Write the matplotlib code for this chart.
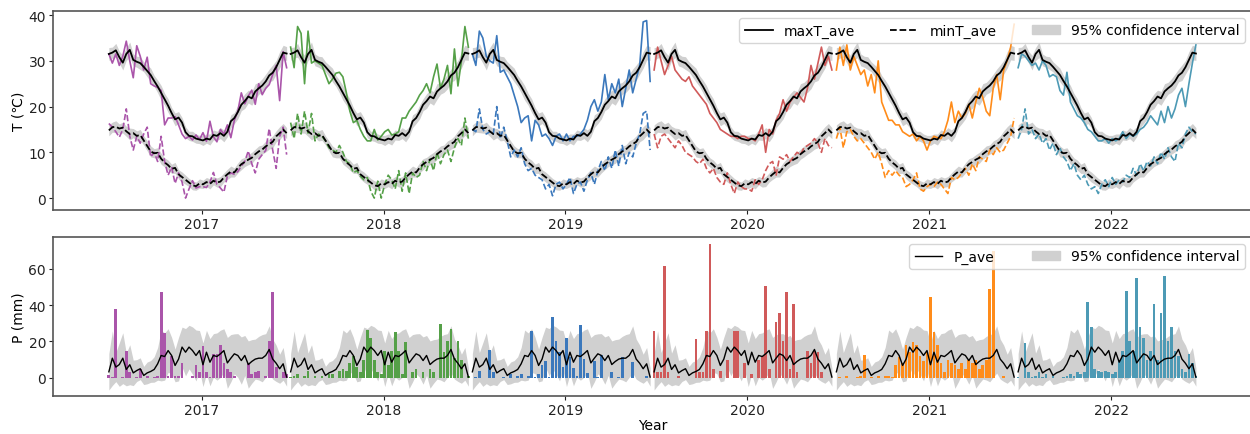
import numpy as np
import pandas as pd
import matplotlib.pyplot as plt
from matplotlib.lines import Line2D
from matplotlib.patches import Patch

# Wochenwerte, jeweils Juli bis Juni (52 Wochen)
season_starts = ["2016-06-28", "2017-06-28", "2018-06-28", "2019-06-28", "2020-06-28", "2021-06-28"]
season_colors = ["#aa55aa", "#55a048", "#3b78bc", "#d05a5a", "#ff8c1a", "#4d9ab5"]

# Mittelwerte (Klimatologie), fuer jede Saison gleich
maxT_ave = [31.5, 31.8, 32.3, 30.8, 29.6, 31.5, 32.4, 30.2, 29.8, 29.5, 28.7, 27.8, 26.9, 25.6, 24.4, 23.0,
            21.6, 20.2, 18.6, 17.2, 17.6, 16.5, 14.4, 13.6, 13.5, 13.0, 12.8, 12.6, 13.0, 12.8, 13.8, 13.6,
            14.2, 13.6, 14.5, 16.8, 17.5, 18.8, 20.4, 21.2, 22.2, 21.8, 23.3, 24.0, 24.6, 25.5, 26.8, 27.4,
            28.6, 30.2, 31.8, 31.6]
minT_ave = [14.8, 15.5, 15.6, 15.2, 15.4, 14.6, 14.0, 14.2, 13.6, 13.8, 12.6, 11.4, 10.2, 9.8, 9.9, 8.6,
            7.8, 7.2, 6.4, 6.6, 5.2, 4.6, 4.0, 3.4, 2.8, 2.6, 3.2, 3.0, 3.5, 3.1, 3.8, 3.4,
            3.6, 4.5, 5.2, 5.8, 5.6, 6.6, 7.4, 7.9, 8.4, 8.8, 9.6, 10.2, 10.6, 11.3, 11.8, 12.3,
            13.5, 14.2, 15.0, 14.2]
P_ave = [3.3, 10.8, 5.9, 7.3, 10.8, 4.6, 7.2, 2.7, 4.0, 5.0, 1.3, 2.7, 3.5, 4.6, 7.7, 12.3,
         11.7, 15.0, 12.3, 6.8, 10.3, 16.9, 14.1, 16.9, 15.0, 12.3, 15.0, 7.2, 14.1, 8.6, 12.3, 11.7,
         13.2, 15.0, 8.2, 10.8, 13.2, 12.3, 9.5, 12.3, 7.3, 9.0, 10.3, 10.8, 10.8, 12.3, 15.6, 10.3,
         8.0, 5.0, 7.7, 0.4]

# halbe Breite des 95%-Konfidenzintervalls
maxT_ci = [1.4, 1.2, 1.5, 1.3, 1.6, 1.4, 1.7, 1.3, 1.2, 1.4, 1.1, 1.3, 1.5, 1.2, 1.4, 1.6, 1.3, 1.5,
           1.2, 1.4, 1.3, 1.1, 1.2, 1.0, 1.1, 1.0, 0.9, 1.1, 1.0, 1.2, 1.1, 1.0, 1.2, 1.3, 1.1, 1.4,
           1.2, 1.5, 1.3, 1.6, 1.4, 1.5, 1.7, 1.3, 1.5, 1.6, 1.4, 1.7, 1.5, 1.8, 1.6, 1.5]
minT_ci = [1.2, 1.1, 1.3, 1.0, 1.2, 1.1, 1.3, 1.0, 1.1, 1.2, 1.0, 1.1, 1.2, 1.0, 1.1, 1.2, 1.0, 1.1,
           1.0, 1.2, 1.0, 1.1, 1.0, 0.9, 1.0, 0.9, 1.0, 0.9, 1.0, 1.1, 0.9, 1.0, 1.1, 1.0, 1.1, 1.2,
           1.0, 1.1, 1.2, 1.0, 1.1, 1.2, 1.1, 1.2, 1.0, 1.2, 1.1, 1.3, 1.2, 1.4, 1.3, 1.2]
P_ci = [10, 15, 8, 12, 14, 9, 11, 7, 6, 6, 5, 6, 6, 7, 9, 14, 13, 12, 10, 9, 12, 11, 13, 12, 13, 14,
        11, 12, 12, 13, 12, 13, 13, 12, 14, 13, 11, 12, 13, 11, 13, 12, 11, 12, 13, 12, 13, 11, 10, 8, 9, 5]

# Jahreswerte maxT
maxT_2016 = [31.5, 29.5, 31.5, 29, 31, 34.3, 30, 26.3, 33.3, 31, 28, 30.8, 25, 24.5, 24.2, 23.5, 16, 17.5,
             17.5, 17.8, 16, 14, 13, 13.5, 12.7, 13.8, 12.8, 14.3, 12.4, 16.8, 13.4, 12.3, 15, 14, 16, 13.2,
             17, 19, 23, 20.6, 22.3, 23.6, 20.5, 25, 22.6, 24, 24.8, 27, 29, 21.3, 32, 28.5]
maxT_2017 = [33, 28.5, 37.5, 36, 25, 36.5, 29.5, 30, 29.5, 29, 27, 25, 26, 27.3, 27.5, 26.5, 23, 19,
             16.5, 17, 15, 13.5, 12.5, 12.5, 15, 12.7, 13.5, 14.5, 15, 13.8, 14, 14.5, 17.5, 17.5, 19, 20,
             21, 22.5, 23.5, 25, 23, 26.5, 29.3, 24, 26, 29, 22.8, 32.6, 24.5, 30, 37.5, 33]
maxT_2018 = [31.5, 29, 36.5, 35, 31, 30, 29.5, 35.5, 27.5, 28, 26.5, 25, 22.5, 20, 16.5, 17.5, 18, 12.5,
             17, 16, 13.5, 14, 13, 11.5, 13.5, 14, 12.5, 14, 12.5, 13.5, 13.5, 14, 15, 17, 20, 21.5,
             19, 21, 27, 21.5, 25, 23, 26, 20, 24, 28, 23, 26, 29, 38.5, 38.8, 25.5]
maxT_2019 = [28, 33, 30, 27, 29, 31, 28, 27, 26, 25.5, 26.5, 24.5, 23.5, 22.5, 21.5, 20.5, 18.5, 17.5,
             16.5, 15, 14.5, 14, 13.5, 13.5, 13, 13.5, 13.5, 13, 13, 12.5, 14, 16, 10, 15, 14, 17,
             18.5, 21.5, 19, 21, 22, 23, 22, 21, 24, 29, 26, 29.5, 33, 29, 31, 28]
maxT_2020 = [28, 33, 29, 33.5, 28, 31, 29, 27, 28, 24.5, 27, 23, 30, 21, 19, 17, 17, 16,
             16, 14.5, 14, 13.5, 14, 12.5, 13.5, 12.5, 10.5, 12.5, 13.5, 13.2, 13, 14.5, 17, 21, 16.5, 19,
             17.5, 18.5, 20.5, 17.5, 21, 24, 22, 19, 18, 24, 27, 21.5, 28, 30, 33, 38]
maxT_2021 = [28.5, 31.5, 31, 30, 29, 29.5, 28, 30, 29, 26.5, 27, 26.5, 23.5, 22.5, 27.5, 21, 19.5, 18,
             17.5, 16.5, 15, 14.5, 13.5, 12.5, 12.5, 13, 12, 13, 12.5, 13, 14.5, 13, 14, 13.5, 14, 15,
             15.5, 16.5, 18, 17, 16, 19, 16.5, 20, 17.5, 19.5, 22.5, 24, 20, 25, 29.5, 33.5]

# Jahreswerte minT
minT_2016 = [16.3, 15.5, 14.5, 13.3, 15, 19.5, 13.5, 10.5, 13.5, 12, 14, 15.5, 9, 10, 8, 13.5, 8, 5,
             6.8, 3.2, 5.5, 3.5, 0, 2, 3.8, 2.2, 2.5, 2.5, 2.3, 3.5, 5.6, 3, 2.2, 1.3, 4.8, 5.5,
             5.2, 5.8, 7, 8, 10.3, 7.5, 5.5, 8.5, 9.5, 10.4, 15.2, 10.5, 6.5, 13.5, 15.5, 9.5]
minT_2017 = [16.5, 13, 18.5, 14, 19, 14.2, 18.5, 12.5, 14, 13.5, 12.5, 11, 10.5, 10, 11.5, 10, 8, 7.5,
             5.5, 6, 4.8, 4, 4.5, 1.5, 0, 3.7, 0, 3, 5, 4, 2, 6, 1.5, 5.5, 1, 5.5,
             4.5, 5, 8, 6, 8.5, 6, 10, 7.5, 9.5, 10.5, 8, 11, 13, 11.5, 17.5, 13]
minT_2018 = [15, 14.5, 19.5, 15, 14, 14.5, 14, 20, 13, 15.5, 12.5, 9, 10.5, 9, 11, 7.5, 6, 6.5,
             5, 4.5, 4, 2, 3, 0.5, 3, 3.5, 2, 3, 4.5, 1, 3, 3.5, 1.5, 4, 5.5, 3,
             6, 8, 6, 9, 6.5, 10.5, 7, 11.5, 7.5, 10, 9, 12, 14, 18.5, 19, 10.5]
minT_2019 = [14, 11, 13.5, 14, 13, 12, 11, 12.5, 11.5, 10, 9.5, 9, 8, 7.5, 8.5, 6.5, 5.5, 6.5,
             4.5, 3.5, 3, 5.5, 3, 1, 3.5, 2.5, 2, 2, 1.5, 4, 3, 4, 6, 7.5, 8, 5,
             9, 8.5, 9.5, 8, 9, 10, 9.5, 11, 11.5, 12, 13, 12, 10, 13, 11.5, 11]
minT_2020 = [13, 15.5, 11, 14.5, 15, 13.5, 12.5, 13, 12, 11, 10, 8.5, 10, 7.5, 4.5, 6, 5, 6,
             5, 4.5, 2.5, 3, 4, 5.5, 2, 1.5, 2.5, 3, 2.5, 3.5, 3, 2, 1, 4.5, 4, 4.5,
             5.5, 6.5, 5, 7.5, 6, 9, 8.5, 8, 10.5, 9.5, 11, 10, 10.5, 12, 13.5, 17.5]
minT_2021 = [13, 15, 19.5, 14, 15, 13, 14, 12, 13, 10.5, 12, 9.5, 11, 9, 8, 6, 7.5, 5,
             4, 5, 3, 2, 2.5, 1, 3, 4, 2.5, 4.5, 3, 4, 3.5, 5, 4.5, 6.5, 5, 7.5,
             6, 8, 7, 9, 7.5, 10, 8.5, 11, 9, 8, 12, 11, 14, 15.5, 14.5, 14]

# Jahreswerte Niederschlag (mm)
P_2016 = [1.5, 0.5, 38, 0, 0.5, 15, 3, 0, 0.5, 5, 0, 1, 0, 0.5, 1, 47, 24.5, 1, 12, 1, 1, 8, 0, 0, 1, 7,
          3, 17.5, 3, 0.5, 13, 13, 18, 8, 5, 3, 1, 0, 0, 0, 8, 2, 3, 4, 0, 1, 20, 47.5, 6, 0, 3, 2]
P_2017 = [0.5, 1, 2, 0, 1, 4, 0, 1, 0, 1, 0, 2, 2, 0, 4, 5, 4, 8, 12, 6, 3, 10, 26.5, 22, 10, 3,
          2, 14.5, 7, 14.5, 25, 15, 2, 19.5, 0, 3, 5, 0, 3, 0, 5, 3, 0, 29.5, 14, 20, 27, 11, 20.5, 10, 0, 1]
P_2018 = [0, 0.5, 4, 0, 0, 15.4, 3, 0, 0, 0.5, 0, 2.2, 0, 1, 2, 0, 1, 25.5, 0.5, 2, 6.8, 9, 0.5, 33.4, 20.5, 14.1,
          6, 21.8, 11.4, 5.5, 1, 28.8, 10.3, 2.6, 0, 9.5, 0.5, 12.5, 0, 0, 3, 0, 0.5, 11.5, 0, 0, 8.5, 0, 0, 0, 1, 0]
P_2019 = [25.5, 3, 3, 61.8, 3, 0, 0, 1, 0, 0, 0, 0, 21.5, 3, 3, 26, 73.4, 5, 0, 4, 0, 10, 0, 26, 26, 0,
          8, 0, 2, 0, 10, 12, 50.8, 5, 0, 30.6, 35.6, 20, 47.5, 5, 40.7, 3, 0, 0, 15, 8, 15, 14, 3, 0, 0, 0]
P_2020 = [0, 0.5, 0, 1, 0, 0, 0.5, 1, 12.3, 0, 0.5, 0, 1, 0, 1, 1, 0.5, 6.8, 11.4, 8, 17.8, 14, 19.6, 17.8, 12, 9,
          14, 44.4, 25, 18, 8, 3, 10, 8, 7, 5, 8, 5, 10, 8, 10, 5, 7, 10, 49, 70, 0, 0, 1, 0, 0, 0]
P_2021 = [0.5, 0, 19, 3, 0.5, 1, 3, 0.5, 2, 0, 1, 0, 0, 0.5, 1, 2, 1, 3, 2, 3, 41.6, 28.2, 5, 4, 3, 4,
          3, 2, 3, 10, 15, 48, 20, 15, 54.9, 28, 22, 10, 15, 40.7, 10, 35.8, 56, 20, 28, 15, 12, 5, 3, 13, 8, 1]

maxT_years = [maxT_2016, maxT_2017, maxT_2018, maxT_2019, maxT_2020, maxT_2021]
minT_years = [minT_2016, minT_2017, minT_2018, minT_2019, minT_2020, minT_2021]
P_years = [P_2016, P_2017, P_2018, P_2019, P_2020, P_2021]

plt.rcParams["font.family"] = "DejaVu Sans"
plt.rcParams["font.size"] = 10

fig = plt.figure(figsize=(12.5, 4.35), dpi=100)
ax1 = fig.add_axes([0.0424, 0.515, 0.959, 0.4575])
ax2 = fig.add_axes([0.0424, 0.0874, 0.959, 0.3655])

band_color = "#d0d0d0"

for i, start in enumerate(season_starts):
    dates = pd.date_range(start, periods=len(maxT_ave), freq="7D")
    col = season_colors[i]
    maxT_a = np.array(maxT_ave)
    minT_a = np.array(minT_ave)
    P_a = np.array(P_ave)

    # Temperatur
    ax1.fill_between(dates, maxT_a - np.array(maxT_ci), maxT_a + np.array(maxT_ci),
                     color=band_color, lw=0, zorder=1)
    ax1.fill_between(dates, minT_a - np.array(minT_ci), minT_a + np.array(minT_ci),
                     color=band_color, lw=0, zorder=1)
    ax1.plot(dates, maxT_years[i], color=col, lw=1.2, zorder=2)
    ax1.plot(dates, minT_years[i], color=col, lw=1.2, ls="--", zorder=2)
    ax1.plot(dates, maxT_a, color="black", lw=1.3, zorder=3)
    ax1.plot(dates, minT_a, color="black", lw=1.3, ls="--", zorder=3)

    # Niederschlag
    ax2.fill_between(dates, P_a - np.array(P_ci), P_a + np.array(P_ci),
                     color=band_color, lw=0, zorder=1)
    ax2.bar(dates, P_years[i], width=5.5, color=col, zorder=2)
    ax2.plot(dates, P_a, color="black", lw=1.0, zorder=3)

ax1.set_ylim(-2.6, 40.9)
ax1.set_yticks([0, 10, 20, 30, 40])
ax1.set_ylabel("T (℃)", labelpad=2)
ax2.set_ylim(-10, 77.5)
ax2.set_yticks([0, 20, 40, 60])
ax2.set_ylabel("P (mm)", labelpad=2)
ax2.set_xlabel("Year", labelpad=1)

ax1.set_xlim(ax2.get_xlim())

for ax in [ax1, ax2]:
    ax.spines["right"].set_visible(False)
    for s in ["left", "bottom", "top"]:
        ax.spines[s].set_color("#555555")
        ax.spines[s].set_linewidth(1.2)
    ax.tick_params(colors="#222222", length=3, pad=2)

h1 = [Line2D([], [], color="black", lw=1.3),
      Line2D([], [], color="black", lw=1.3, ls="--"),
      Patch(color=band_color)]
ax1.legend(h1, ["maxT_ave", "minT_ave", "95% confidence interval"], loc="upper right", ncol=3,
           columnspacing=2.55)
h2 = [Line2D([], [], color="black", lw=1.0), Patch(color=band_color)]
ax2.legend(h2, ["P_ave", "95% confidence interval"], loc="upper right", ncol=2, columnspacing=2.7)

fig.savefig("out.png", dpi=100)
